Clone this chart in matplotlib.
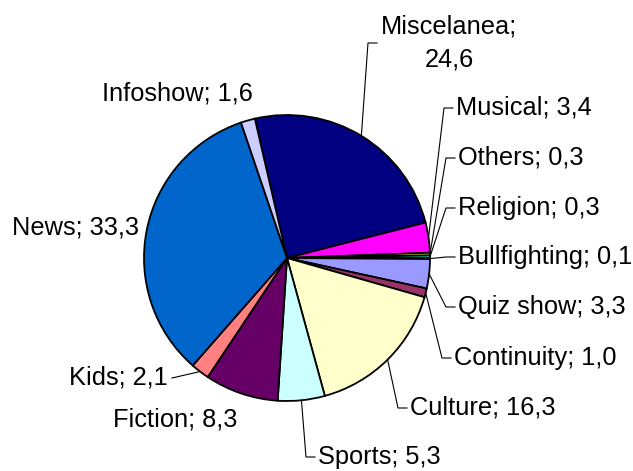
import numpy as np
import matplotlib
matplotlib.use("Agg")
from matplotlib import pyplot as plt

# data
genres = ["Miscelanea", "Musical", "Others", "Religion", "Bullfighting", "Quiz show",
          "Continuity", "Culture", "Sports", "Fiction", "Kids", "News", "Infoshow"]
shares = [24.6, 3.4, 0.3, 0.3, 0.1, 3.3, 1.0, 16.3, 5.3, 8.3, 2.1, 33.3, 1.6]
colors = ["#000080", "#FF00FF", "#FFFF00", "#00FFFF", "#800080", "#9999FF",
          "#993366", "#FFFFCC", "#CCFFFF", "#660066", "#FF8080", "#0066CC", "#CCCCFF"]

# label placement in pixels (x, y from top, ha, leader)
label_pos = {
    "Miscelanea": (449, 43, "center", True),
    "Musical": (456, 108, "left", True),
    "Others": (458, 158, "left", True),
    "Religion": (458, 208, "left", True),
    "Bullfighting": (458, 257, "left", True),
    "Quiz show": (458, 307, "left", True),
    "Continuity": (454, 358, "left", True),
    "Culture": (410, 408, "left", True),
    "Sports": (318, 457, "left", True),
    "Fiction": (113, 420, "left", False),
    "Kids": (168, 378, "right", True),
    "News": (139, 228, "right", False),
    "Infoshow": (102, 93, "left", False),
}

W, H = 633, 471
cx, cy, r = 287, 258, 143
start = 103  # degrees, ccw from +x

plt.rcParams['font.family'] = ['Liberation Sans', 'DejaVu Sans']
fig = plt.figure(figsize=(W / 100, H / 100), dpi=100)
ax = fig.add_axes([0, 0, 1, 1])
ax.pie(shares, colors=colors, startangle=start, counterclock=False,
       center=(cx, H - cy), radius=r,
       wedgeprops=dict(edgecolor="black", linewidth=1.3))
ax.set_xlim(0, W)
ax.set_ylim(0, H)
ax.set_aspect("equal")
ax.axis("off")

total = sum(shares)
cum = 0
for name, v in zip(genres, shares):
    mid = start - 360 * (cum + v / 2) / total
    cum += v
    tx, ty, ha, leader = label_pos[name]
    txt = f"{name}; {v:.1f}".replace(".", ",")
    if name == "Miscelanea":
        txt = txt.replace("; ", ";\n")
    ax.text(tx, H - ty, txt, ha=ha, va="center", fontsize=18.3,
            multialignment="center", linespacing=1.5)
    if not leader:
        continue
    ex = cx + r * np.cos(np.radians(mid))
    ey = H - cy + r * np.sin(np.radians(mid))
    if name == "Kids":
        ax.plot([ex, tx + 4], [ey, H - ty], color="black", lw=0.8)
        continue
    left = tx - 69 if name == "Miscelanea" else tx
    ax.plot([ex, left - 12, left - 3], [ey, H - ty, H - ty], color="black", lw=0.8)

fig.savefig("out.png", dpi=100)
